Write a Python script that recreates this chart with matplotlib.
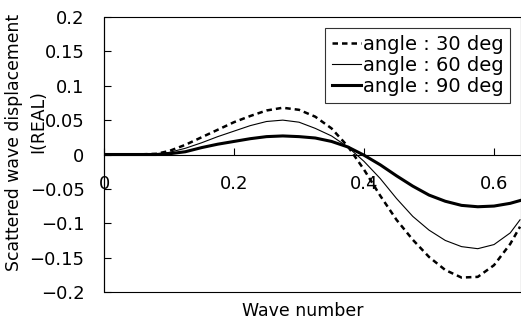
import matplotlib
matplotlib.use("Agg")
import matplotlib.pyplot as plt
from matplotlib.patches import Rectangle

plt.rcParams['font.family'] = ['DejaVu Sans']

wave_number = [0, 0.05, 0.08, 0.1, 0.125, 0.15, 0.175, 0.2, 0.225, 0.25, 0.275, 0.3,
               0.325, 0.35, 0.375, 0.4, 0.425, 0.45, 0.475, 0.5, 0.525, 0.55, 0.575,
               0.6, 0.625, 0.64]
angle30 = [0, 0, 0.001, 0.005, 0.014, 0.025, 0.036, 0.047, 0.056, 0.064, 0.068, 0.065,
           0.055, 0.038, 0.012, -0.022, -0.060, -0.095, -0.124, -0.149, -0.168, -0.179,
           -0.178, -0.161, -0.130, -0.105]
angle60 = [0, 0, 0.001, 0.003, 0.009, 0.017, 0.026, 0.034, 0.042, 0.048, 0.050, 0.047,
           0.038, 0.027, 0.011, -0.010, -0.035, -0.064, -0.090, -0.110, -0.125, -0.134,
           -0.137, -0.131, -0.114, -0.095]
angle90 = [0, 0, 0, 0.001, 0.004, 0.010, 0.015, 0.019, 0.023, 0.026, 0.027, 0.026,
           0.024, 0.019, 0.011, -0.001, -0.015, -0.031, -0.046, -0.059, -0.068, -0.074,
           -0.076, -0.075, -0.071, -0.067]
labels = ["angle : 30 deg", "angle : 60 deg", "angle : 90 deg"]
xticks = [0, 0.2, 0.4, 0.6]
xticklabels = ["0", "0.2", "0.4", "0.6"]
yticks = [0.2, 0.15, 0.1, 0.05, 0, -0.05, -0.1, -0.15, -0.2]
yticklabels = ["0.2", "0.15", "0.1", "0.05", "0", "\u22120.05", "\u22120.1", "\u22120.15", "\u22120.2"]

fig = plt.figure(figsize=(5.21, 3.22), dpi=100)
ax = fig.add_axes([104/521, 1-292/322, 417/521, 275/322])

ax.plot(wave_number, angle30, color='black', lw=1.8, linestyle=(0, (2.2, 1.6)), label=labels[0])
ax.plot(wave_number, angle60, color='black', lw=0.8, label=labels[1])
ax.plot(wave_number, angle90, color='black', lw=2.2, label=labels[2])

ax.set_xlim(0, 0.6415)
ax.set_ylim(-0.2, 0.2)

for s in ['top', 'right']:
    ax.spines[s].set_visible(False)
ax.spines['bottom'].set_position(('data', 0))
ax.spines['bottom'].set_linewidth(0.8)
ax.spines['left'].set_linewidth(0.8)
ax.add_patch(Rectangle((0, 0), 1, 1, transform=ax.transAxes, fill=False,
                       edgecolor='black', lw=0.8, clip_on=False))

ax.set_xticks(xticks)
ax.set_xticklabels(xticklabels)
ax.set_yticks(yticks)
ax.set_yticklabels(yticklabels)
ax.tick_params(axis='both', direction='in', length=5, width=0.8, labelsize=13)
ax.tick_params(axis='x', pad=15)
ax.tick_params(axis='y', pad=14)

fig.text(303/521, 1-311/322, "Wave number", ha='center', va='center', fontsize=12.5)
fig.text(14/521, 1-142/322, "Scattered wave displacement", ha='center', va='center',
         rotation=90, fontsize=12.4)
fig.text(38/521, 1-122/322, "I(REAL)", ha='center', va='center', rotation=90, fontsize=12.4)

leg = ax.legend(loc='upper right', bbox_to_anchor=(406/417, (292-28)/275), fontsize=14,
                frameon=True, fancybox=False, handlelength=1.5, handletextpad=0.08,
                labelspacing=0.1, borderpad=0.35, borderaxespad=0)
leg.get_frame().set_edgecolor('black')
leg.get_frame().set_linewidth(0.8)

fig.savefig("out.png", dpi=100)
